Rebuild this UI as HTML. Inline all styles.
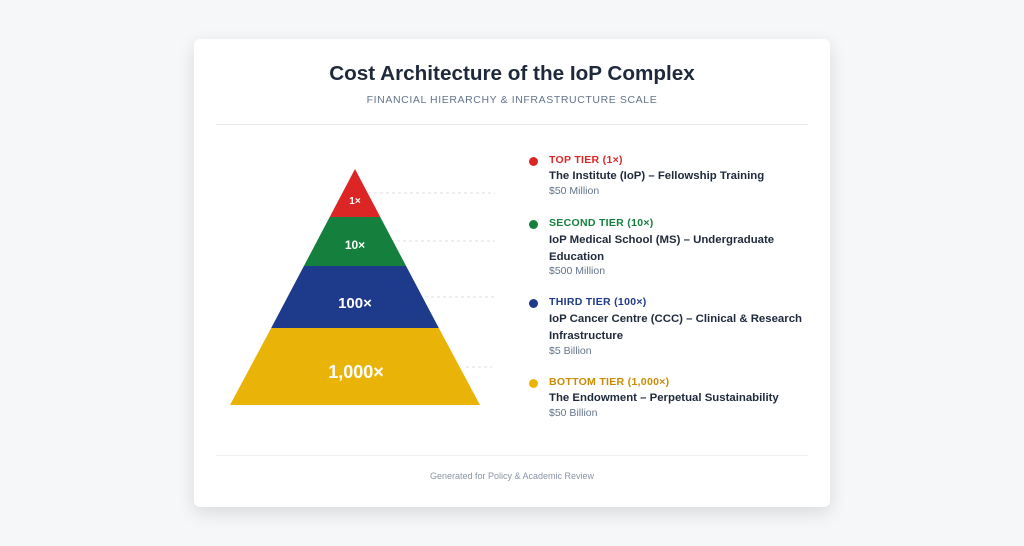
<!DOCTYPE html>
<html><head><meta charset="utf-8"><style>
body{margin:0;width:1024px;height:546px;background:#f6f7f9;font-family:"Liberation Sans",sans-serif;position:relative;overflow:hidden}
.card{position:absolute;left:194px;top:39px;width:636px;height:468px;background:#fff;border-radius:6px;box-shadow:0 6px 18px rgba(0,0,0,.12)}
.t{position:absolute;white-space:nowrap}
.h{font-weight:bold;font-size:10.5px;letter-spacing:.3px}
.n{font-weight:bold;font-size:11.4px;color:#1e293b}
.m{font-size:10.5px;color:#64748b}
.dot{position:absolute;width:9px;height:9px;border-radius:50%}
</style></head><body>
<div class="card"></div>
<div class="t" style="left:0;width:1024px;text-align:center;top:62px;font-size:20.7px;font-weight:bold;color:#1e293b">Cost Architecture of the IoP Complex</div>
<div class="t" style="left:0;width:1024px;text-align:center;top:94px;font-size:10.5px;letter-spacing:.6px;color:#64748b">FINANCIAL HIERARCHY &amp; INFRASTRUCTURE SCALE</div>
<div style="position:absolute;left:216px;width:592px;top:124px;border-top:1px solid #e5e7eb"></div>
<div style="position:absolute;left:216px;width:592px;top:455px;border-top:1px solid #eef0f3"></div>
<div class="t" style="left:0;width:1024px;text-align:center;top:471px;font-size:9px;color:#8a94a6">Generated for Policy &amp; Academic Review</div>
<svg style="position:absolute;left:0;top:0" width="1024" height="546">
<g stroke="#d8dce2" stroke-dasharray="3,3" stroke-width="1">
<line x1="368" y1="193" x2="495" y2="193"/><line x1="385" y1="241" x2="495" y2="241"/><line x1="413" y1="297" x2="495" y2="297"/><line x1="466" y1="367" x2="492" y2="367"/></g>
<polygon points="355,169 380.3,217 329.7,217" fill="#dc2626"/>
<polygon points="329.7,217 380.3,217 406.1,266 303.9,266" fill="#15803d"/>
<polygon points="303.9,266 406.1,266 438.8,328 271.2,328" fill="#1e3a8a"/>
<polygon points="271.2,328 438.8,328 480,405 230,405" fill="#eab308"/>
<g fill="#fff" font-family="Liberation Sans,sans-serif" font-weight="bold" text-anchor="middle">
<text x="355" y="204" font-size="10">1×</text>
<text x="355" y="249" font-size="12">10×</text>
<text x="355" y="308" font-size="15">100×</text>
<text x="356" y="378" font-size="18">1,000×</text></g>
</svg>
<div class="dot" style="left:529px;top:157px;background:#dc2626"></div>
<div class="t h" style="left:549px;top:154px;color:#dc2626">TOP TIER (1×)</div>
<div class="t n" style="left:549px;top:170px">The Institute (IoP) – Fellowship Training</div>
<div class="t m" style="left:549px;top:185px">$50 Million</div>
<div class="dot" style="left:529px;top:220px;background:#15803d"></div>
<div class="t h" style="left:549px;top:217px;color:#15803d">SECOND TIER (10×)</div>
<div class="t n" style="left:549px;top:232px;line-height:17px">IoP Medical School (MS) – Undergraduate<br>Education</div>
<div class="t m" style="left:549px;top:265px">$500 Million</div>
<div class="dot" style="left:529px;top:299px;background:#1e3a8a"></div>
<div class="t h" style="left:549px;top:296px;color:#1e3a8a">THIRD TIER (100×)</div>
<div class="t n" style="left:549px;top:311px;line-height:17px">IoP Cancer Centre (CCC) – Clinical &amp; Research<br>Infrastructure</div>
<div class="t m" style="left:549px;top:345px">$5 Billion</div>
<div class="dot" style="left:529px;top:379px;background:#eab308"></div>
<div class="t h" style="left:549px;top:376px;color:#ca8a04">BOTTOM TIER (1,000×)</div>
<div class="t n" style="left:549px;top:392px">The Endowment – Perpetual Sustainability</div>
<div class="t m" style="left:549px;top:407px">$50 Billion</div>
</body></html>
